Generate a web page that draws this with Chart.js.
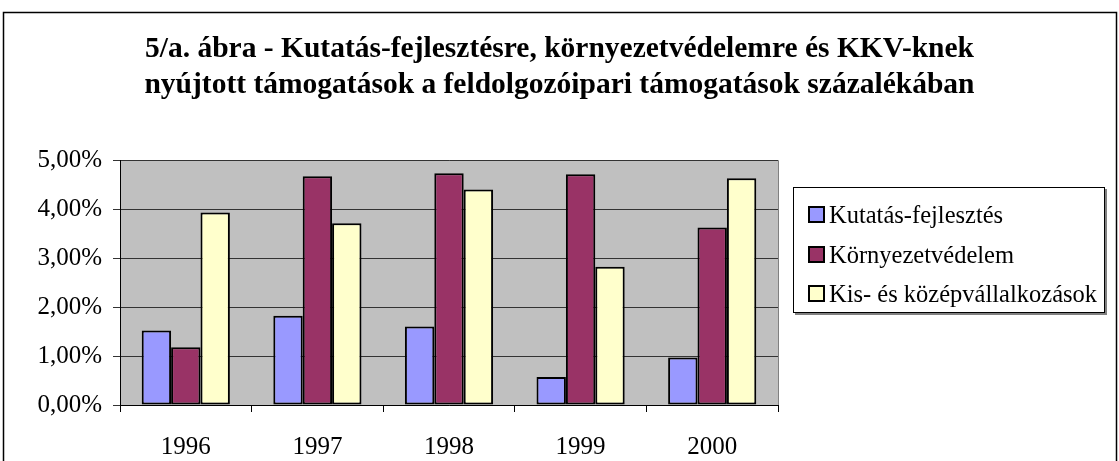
<!DOCTYPE html>
<html>
<head>
<meta charset="utf-8">
<script src="https://cdn.jsdelivr.net/npm/chart.js@4/dist/chart.umd.min.js"></script>
<style>
  html, body { margin: 0; padding: 0; background: #fff; }
  #wrap { position: relative; width: 1119px; height: 461px; }
  #cim {
    position: absolute; left: 0; top: 29px; width: 1119px; text-align: center;
    font-family: "Liberation Serif", "Times New Roman", serif; font-weight: bold;
    font-size: 29.5px; line-height: 36px; color: #000;
  }
  #legend {
    position: absolute; left: 793px; top: 187px; width: 312px; height: 126px;
    box-sizing: border-box; border: 1px solid #000; background: #fff;
    box-shadow: 2px 2px 0 #808080;
    font-family: "Liberation Serif", "Times New Roman", serif; font-size: 24.5px; color: #000;
    padding: 13px 0 0 14px;
  }
  #legend div { height: 39.5px; line-height: 28px; white-space: nowrap; }
  #legend span.sw {
    display: inline-block; width: 13px; height: 13px; border: 2px solid #000;
    vertical-align: 0px; margin-right: 4px;
  }
</style>
</head>
<body>
<div id="wrap">
  <canvas id="chart" width="1119" height="461"></canvas>
  <div id="cim"></div>
  <div id="legend"></div>
</div>
<script>
// adatok
const evek = ['1996', '1997', '1998', '1999', '2000'];
const kutatas = [1.52, 1.82, 1.60, 0.57, 0.97];
const kornyezet = [1.18, 4.67, 4.73, 4.71, 3.62];
const kkv = [3.93, 3.71, 4.40, 2.82, 4.63];
const sorNevek = ['Kutatás-fejlesztés', 'Környezetvédelem', 'Kis- és középvállalkozások'];
const szinek = ['#9999FF', '#993366', '#FFFFCC'];
const cim = ['5/a. ábra - Kutatás-fejlesztésre, környezetvédelemre és KKV-knek',
             'nyújtott támogatások a feldolgozóipari támogatások százalékában'];

const serif = '"Liberation Serif", "Times New Roman", serif';

// szürke háttér a rajzterületnek + külső keret
const hatter = {
  id: 'hatter',
  beforeDraw(chart) {
    const { ctx, chartArea: a } = chart;
    ctx.save();
    ctx.fillStyle = '#C0C0C0';
    ctx.fillRect(a.left, a.top, a.right - a.left, a.bottom - a.top);
    ctx.strokeStyle = '#808080';
    ctx.lineWidth = 1;
    ctx.beginPath();
    ctx.moveTo(a.left, a.top + 0.5);
    ctx.lineTo(a.right + 0.5, a.top + 0.5);
    ctx.lineTo(a.right + 0.5, a.bottom);
    ctx.stroke();
    ctx.strokeStyle = '#000';
    ctx.lineWidth = 1.5;
    ctx.strokeRect(3.5, 12.5, 1113, 470);
    ctx.restore();
  }
};

new Chart(document.getElementById('chart'), {
  type: 'bar',
  data: {
    labels: evek,
    datasets: [kutatas, kornyezet, kkv].map((d, i) => ({
      label: sorNevek[i],
      data: d,
      backgroundColor: szinek[i],
      borderColor: '#000',
      borderWidth: 2,
      borderSkipped: false,
      categoryPercentage: 0.67,
      barPercentage: 1.0
    }))
  },
  options: {
    responsive: false,
    animation: false,
    layout: { padding: { left: 0, right: 341, top: 160, bottom: 0 } },
    plugins: {
      legend: { display: false },
      tooltip: { enabled: false },
      title: { display: false }
    },
    scales: {
      x: {
        grid: { drawOnChartArea: false, color: '#000', tickLength: 7, offset: true },
        border: { color: '#000', width: 1 },
        ticks: { color: '#000', font: { family: serif, size: 25 }, padding: 20 },
        afterFit: s => { s.height = 56; }
      },
      y: {
        min: 0, max: 5,
        ticks: {
          stepSize: 1,
          color: '#000',
          font: { family: serif, size: 25 },
          padding: 11,
          callback: v => v.toFixed(2).replace('.', ',') + '%'
        },
        grid: { color: '#333', tickLength: 7, lineWidth: 1 },
        border: { color: '#000', width: 1 },
        afterFit: s => { s.width = 120; }
      }
    }
  },
  plugins: [hatter]
});

document.getElementById('cim').innerHTML = cim.join('<br>');

// kézi jelmagyarázat
document.getElementById('legend').innerHTML = sorNevek.map((n, i) =>
  `<div><span class="sw" style="background:${szinek[i]}"></span>${n}</div>`).join('');
</script>
</body>
</html>
